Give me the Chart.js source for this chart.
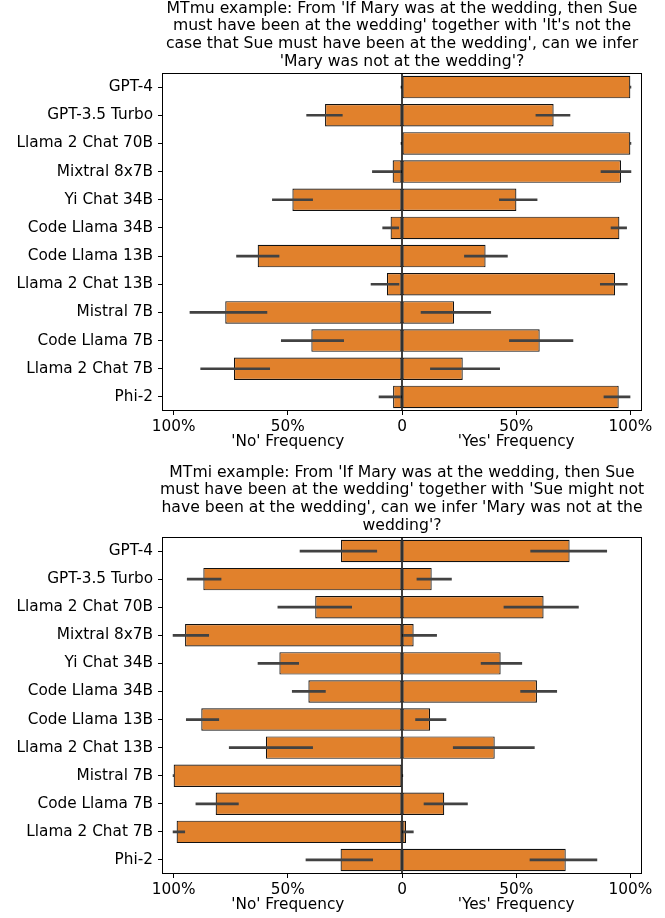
<!DOCTYPE html>
<html>
<head>
<meta charset="utf-8">
<script src="https://cdn.jsdelivr.net/npm/chart.js@4.4.1/dist/chart.umd.min.js"></script>
<style>
  html, body { margin: 0; padding: 0; background: #fff; }
  #wrap { position: relative; width: 665px; height: 918px; }
  canvas { position: absolute; left: 0; }
</style>
</head>
<body>
<div id="wrap">
  <canvas id="c1" width="665" height="459" style="top:0px;width:665px;height:459px"></canvas>
  <canvas id="c2" width="665" height="459" style="top:459px;width:665px;height:459px"></canvas>
</div>
<script>
// ---------------- data ----------------
const models = ["GPT-4", "GPT-3.5 Turbo", "Llama 2 Chat 70B", "Mixtral 8x7B", "Yi Chat 34B",
  "Code Llama 34B", "Code Llama 13B", "Llama 2 Chat 13B", "Mistral 7B", "Code Llama 7B",
  "Llama 2 Chat 7B", "Phi-2"];

const xTicks = [-100, -50, 0, 50, 100];
const xTickLabels = ["100%", "50%", "0", "50%", "100%"];
const axisLabels = ["'No' Frequency", "'Yes' Frequency"];

const mtmuTitle = [
  "MTmu example: From 'If Mary was at the wedding, then Sue",
  "must have been at the wedding' together with 'It's not the",
  "case that Sue must have been at the wedding', can we infer",
  "'Mary was not at the wedding'?"
];
const mtmuNo    = [0, 33.7, 0, 4.1, 48.0, 5.0, 63.2, 6.6, 77.4, 39.7, 73.6, 3.9];
const mtmuNoLo  = [0, 26.0, 0, 0, 39.0, 1.3, 53.7, 1.2, 59.0, 25.4, 57.8, 0];
const mtmuNoHi  = [0.6, 41.9, 0.6, 13.1, 56.9, 8.6, 72.6, 13.7, 93.0, 53.0, 88.3, 10.2];
const mtmuYes   = [100, 66.4, 100, 95.9, 50.1, 95.2, 36.6, 93.3, 22.8, 60.3, 26.6, 94.9];
const mtmuYesLo = [99.4, 58.5, 99.4, 87.0, 42.5, 91.4, 27.2, 86.7, 8.2, 46.9, 12.3, 88.3];
const mtmuYesHi = [100.4, 73.7, 100.4, 100.4, 59.3, 98.5, 46.3, 98.8, 39.0, 75.0, 42.9, 100];

const mtmiTitle = [
  "MTmi example: From 'If Mary was at the wedding, then Sue",
  "must have been at the wedding' together with 'Sue might not",
  "have been at the wedding', can we infer 'Mary was not at the",
  "wedding'?"
];
const mtmiNo    = [26.7, 87.0, 38.0, 95.0, 53.7, 41.0, 87.9, 59.6, 100, 81.6, 98.7, 26.9];
const mtmiNoLo  = [10.9, 79.1, 21.9, 84.5, 45.1, 33.4, 80.1, 39.0, 99.6, 71.5, 95.0, 12.7];
const mtmiNoHi  = [44.8, 94.2, 54.5, 100.4, 63.2, 48.2, 94.6, 75.8, 100.4, 90.4, 100.4, 42.2];
const mtmiYes   = [73.4, 13.0, 62.0, 5.1, 43.2, 59.1, 12.3, 40.6, 0, 18.5, 1.75, 71.7];
const mtmiYesLo = [56.2, 6.4, 44.5, 0, 34.5, 51.8, 5.8, 22.3, 0, 9.5, 0, 55.9];
const mtmiYesHi = [89.8, 21.8, 77.4, 15.3, 52.6, 67.9, 19.4, 58.1, 0.5, 28.8, 5.1, 85.5];

// ---------------- styling ----------------
const FONT = "'DejaVu Sans', sans-serif";
const FS = 15.3;
const TFS = 15.65;
const BAR = "#e1812c";
const ERR = "#424242";

const overlay = {
  id: 'overlay',
  afterDatasetsDraw(chart, args, opts) {
    const ctx = chart.ctx, a = chart.chartArea;
    const xs = chart.scales.x, ys = chart.scales.y;
    ctx.save();
    // error bars
    ctx.strokeStyle = ERR; ctx.lineWidth = 2.7; ctx.lineCap = 'butt';
    for (let i = 0; i < opts.noLo.length; i++) {
      const y = ys.getPixelForValue(i);
      ctx.beginPath();
      ctx.moveTo(xs.getPixelForValue(-opts.noLo[i]), y);
      ctx.lineTo(xs.getPixelForValue(-opts.noHi[i]), y);
      ctx.moveTo(xs.getPixelForValue(opts.yesLo[i]), y);
      ctx.lineTo(xs.getPixelForValue(opts.yesHi[i]), y);
      ctx.stroke();
    }
    // zero line
    const x0 = xs.getPixelForValue(0);
    ctx.strokeStyle = '#000'; ctx.lineWidth = 1.5;
    ctx.beginPath(); ctx.moveTo(x0, a.top); ctx.lineTo(x0, a.bottom); ctx.stroke();
    // frame
    ctx.lineWidth = 1;
    ctx.strokeRect(Math.round(a.left) + 0.5, Math.round(a.top) + 0.5,
      Math.round(a.right - a.left) - 1, Math.round(a.bottom - a.top) - 1);
    ctx.restore();
  },
  afterDraw(chart, args, opts) {
    const ctx = chart.ctx, a = chart.chartArea, xs = chart.scales.x;
    ctx.save();
    ctx.fillStyle = '#000';
    ctx.font = TFS + 'px ' + FONT;
    ctx.textAlign = 'center';
    ctx.textBaseline = 'alphabetic';
    const cx = (a.left + a.right) / 2;
    const n = opts.title.length;
    opts.title.forEach((t, i) => {
      ctx.fillText(t, cx, a.top - 7.5 - 17.6 * (n - 1 - i));
    });
    ctx.font = FS + 'px ' + FONT;
    ctx.textBaseline = 'middle';
    ctx.fillText(axisLabels[0], xs.getPixelForValue(-50), a.bottom + 31.5);
    ctx.fillText(axisLabels[1], xs.getPixelForValue(50), a.bottom + 31.5);
    ctx.restore();
  }
};

function makeChart(id, title, no, noLo, noHi, yes, yesLo, yesHi, padTop, xHeight) {
  return new Chart(document.getElementById(id), {
    type: 'bar',
    data: {
      labels: models,
      datasets: [
        { label: 'No', data: no.map(v => -v), backgroundColor: BAR, borderColor: '#111',
          borderWidth: 1.2, borderSkipped: false, barPercentage: 0.8, categoryPercentage: 1.0 },
        { label: 'Yes', data: yes, backgroundColor: BAR, borderColor: '#111',
          borderWidth: 1.2, borderSkipped: false, barPercentage: 0.8, categoryPercentage: 1.0 }
      ]
    },
    options: {
      indexAxis: 'y',
      responsive: false,
      animation: false,
      devicePixelRatio: 1,
      layout: { padding: { top: padTop, left: 0, right: 23, bottom: 0 } },
      plugins: {
        legend: { display: false },
        tooltip: { enabled: false },
        title: { display: false },
        overlay: { title, noLo, noHi, yesLo, yesHi }
      },
      scales: {
        x: {
          type: 'linear', stacked: true, min: -105.1, max: 105.1,
          afterBuildTicks: s => { s.ticks = xTicks.map(v => ({ value: v })); },
          afterFit: s => { s.height = xHeight; },
          ticks: {
            color: '#000', font: { family: FONT, size: FS }, padding: 3, maxRotation: 0,
            callback: (v) => xTickLabels[xTicks.indexOf(v)]
          },
          grid: { drawOnChartArea: false, drawTicks: true, tickLength: 4, tickColor: '#000', tickWidth: 1 },
          border: { display: false }
        },
        y: {
          type: 'category', stacked: true,
          afterFit: s => { s.width = 162; },
          ticks: { color: '#000', font: { family: FONT, size: FS }, padding: 5, autoSkip: false },
          grid: { offset: false, drawOnChartArea: false, drawTicks: true, tickLength: 4, tickColor: '#000', tickWidth: 1 },
          border: { display: false }
        }
      }
    },
    plugins: [overlay]
  });
}

makeChart('c1', mtmuTitle, mtmuNo, mtmuNoLo, mtmuNoHi, mtmuYes, mtmuYesLo, mtmuYesHi, 73, 48);
makeChart('c2', mtmiTitle, mtmiNo, mtmiNoLo, mtmiNoHi, mtmiYes, mtmiYesLo, mtmiYesHi, 78, 44);
</script>
</body>
</html>
